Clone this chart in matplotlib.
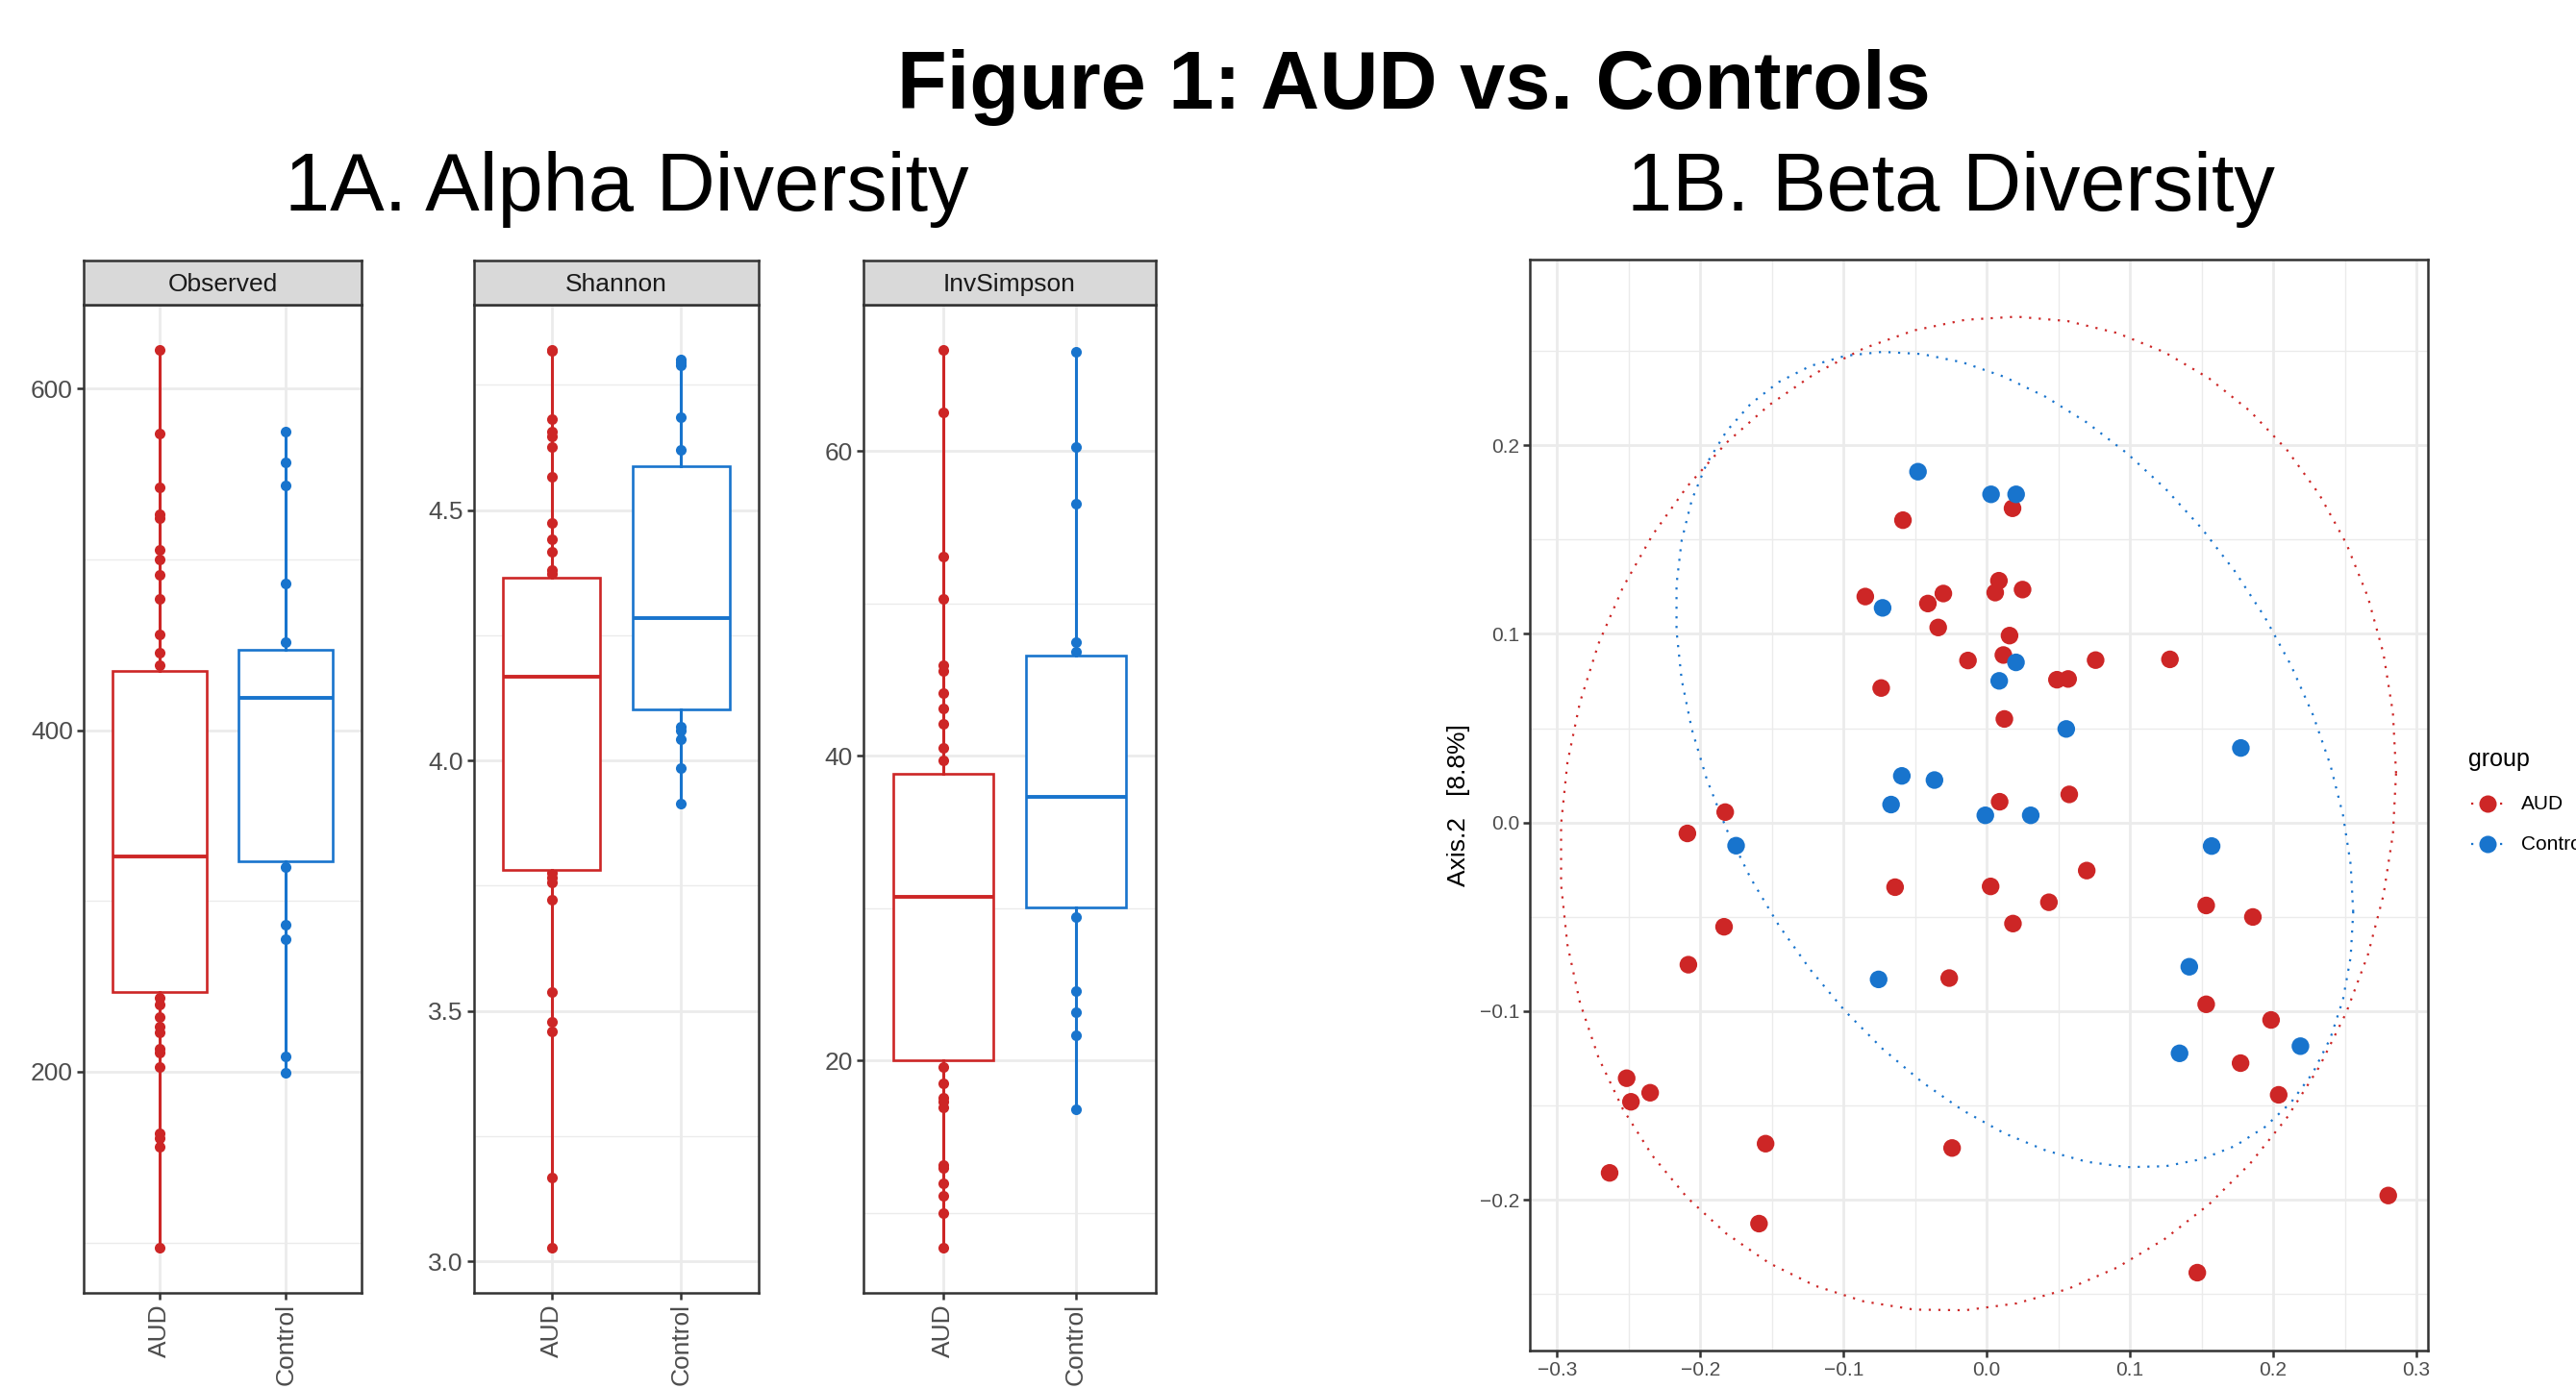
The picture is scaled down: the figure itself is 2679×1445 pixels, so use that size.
import numpy as np
import matplotlib
matplotlib.use("Agg")
import matplotlib.pyplot as plt
from matplotlib.lines import Line2D
from matplotlib.ticker import FixedLocator, FuncFormatter

plt.rcParams["font.family"] = ["Liberation Sans", "DejaVu Sans"]

W, H = 2679, 1445
RED = "#CD2626"
BLUE = "#1874CD"
GRID = "#EBEBEB"
DARK = "#333333"
TICKTXT = "#4D4D4D"

GROUPS = ["AUD", "Control"]

# alpha diversity: points visible outside the boxes, and box stats (q1, median, q3)
OBS_AUD = [622.8, 573.8, 541.9, 526.5, 523.9, 505.8, 500.2, 490.8, 477.0, 455.9, 445.6, 437.8,
           243.4, 239.1, 231.8, 226.3, 223.2, 213.3, 211.2, 203.0, 163.9, 160.9, 156.1, 96.8]
OBS_CTRL = [574.6, 557.0, 543.2, 485.6, 451.6, 320.0, 286.0, 277.8, 209.0, 199.6]
OBS_BOX_AUD = [246.9, 326.0, 434.4]
OBS_BOX_CTRL = [323.0, 418.9, 446.9]

SHA_AUD = [4.820, 4.817, 4.682, 4.656, 4.647, 4.625, 4.566, 4.474, 4.441, 4.416, 4.380, 4.372,
           3.775, 3.766, 3.756, 3.723, 3.538, 3.479, 3.459, 3.168, 3.027]
SHA_CTRL = [4.801, 4.795, 4.788, 4.686, 4.619, 4.068, 4.059, 4.042, 3.985, 3.914]
SHA_BOX_AUD = [3.782, 4.168, 4.365]
SHA_BOX_CTRL = [4.101, 4.284, 4.587]

INV_AUD = [66.65, 62.55, 53.06, 50.27, 45.93, 45.59, 44.14, 43.13, 42.12, 40.53, 39.71,
           19.57, 18.51, 17.59, 17.30, 16.92, 13.16, 12.96, 11.95, 11.13, 10.02, 7.71]
INV_CTRL = [66.51, 60.24, 56.53, 47.47, 46.80, 29.45, 24.58, 23.18, 21.69, 16.82]
INV_BOX_AUD = [20.05, 30.75, 38.80]
INV_BOX_CTRL = [30.07, 37.30, 46.55]

# beta diversity ordination (Axis.1, Axis.2)
AUD_X = [-0.0585, 0.018, -0.0848, -0.0411, -0.0303, 0.0085, 0.0059, 0.025, -0.0339, 0.0159,
         -0.0131, 0.0116, -0.0737, 0.0123, 0.009, -0.1826, 0.076, 0.1279, 0.049, 0.0568,
         0.0576, 0.0698, 0.0027, 0.0434, 0.0183, 0.1532, 0.1858, 0.1532, 0.1985, 0.1772,
         0.2038, 0.2803, 0.147, -0.209, -0.064, -0.1834, -0.2083, -0.0262, -0.2514, -0.2484,
         -0.235, -0.2633, -0.1544, -0.0242, -0.159]
AUD_Y = [0.1603, 0.1666, 0.1198, 0.1161, 0.1214, 0.1282, 0.1219, 0.1235, 0.1034, 0.0991,
         0.0859, 0.0888, 0.0713, 0.0549, 0.011, 0.0055, 0.0861, 0.0865, 0.0757, 0.0761,
         0.0149, -0.0255, -0.0339, -0.0423, -0.0536, -0.044, -0.0501, -0.0964, -0.1047, -0.1276,
         -0.1444, -0.1978, -0.2387, -0.0058, -0.0343, -0.0553, -0.0754, -0.0825, -0.1356, -0.1481,
         -0.1433, -0.1858, -0.1703, -0.1726, -0.2127]
CTRL_X = [-0.048, 0.003, 0.0205, -0.0727, 0.0087, 0.0204, 0.0555, 0.1774, -0.0593, -0.0365,
          -0.0668, -0.001, 0.0307, -0.175, 0.157, -0.0755, 0.1414, 0.1346, 0.219]
CTRL_Y = [0.186, 0.174, 0.174, 0.1138, 0.0751, 0.0849, 0.0496, 0.0395, 0.0247, 0.0225,
          0.0095, 0.0038, 0.0038, -0.0123, -0.0125, -0.0832, -0.0765, -0.1224, -0.1186]


def frect(x0, y0, x1, y1):
    return [x0 / W, 1 - y1 / H, (x1 - x0) / W, (y1 - y0) / H]


def style_axes(ax):
    for s in ax.spines.values():
        s.set_color(DARK)
        s.set_linewidth(1.8)
    ax.set_axisbelow(True)
    ax.tick_params(which="major", length=5, width=1.8, color=DARK, labelcolor=TICKTXT, pad=3)
    ax.tick_params(which="minor", length=0)


def alpha_panel(fig, x0, x1, title, aud, ctrl, box_aud, box_ctrl, major, minor, fmt):
    ax = fig.add_axes(frect(x0, 317, x1, 1345))
    for i, (pts, box, col) in enumerate([(aud, box_aud, RED), (ctrl, box_ctrl, BLUE)]):
        pos = i + 1
        ax.plot([pos] * len(pts), pts, "o", color=col, ms=8, mec="none", zorder=2.5)
        stats = dict(q1=box[0], med=box[1], q3=box[2], whislo=min(pts), whishi=max(pts), fliers=[])
        ax.bxp([stats], positions=[pos], widths=0.75, patch_artist=True, showcaps=False,
               showfliers=False, manage_ticks=False, zorder=3,
               boxprops=dict(facecolor="white", edgecolor=col, linewidth=1.9),
               medianprops=dict(color=col, linewidth=2.8),
               whiskerprops=dict(color=col, linewidth=2.2))
    allv = list(aud) + list(ctrl)
    lo, hi = min(allv), max(allv)
    pad = (hi - lo) * 0.05
    ax.set_ylim(lo - pad, hi + pad)
    ax.set_xlim(0.4, 2.6)
    ax.set_xticks([1, 2])
    ax.set_xticklabels(GROUPS, rotation=90, fontsize=19)
    ax.yaxis.set_major_locator(FixedLocator(major))
    ax.yaxis.set_minor_locator(FixedLocator(minor))
    ax.yaxis.set_major_formatter(FuncFormatter(lambda v, p: fmt.format(v)))
    ax.tick_params(axis="y", labelsize=19)
    ax.grid(which="major", color=GRID, lw=2)
    ax.grid(which="minor", axis="y", color=GRID, lw=1)
    style_axes(ax)

    sx = fig.add_axes(frect(x0, 271, x1, 317))
    sx.set_facecolor("#D9D9D9")
    sx.set_xticks([])
    sx.set_yticks([])
    for s in sx.spines.values():
        s.set_color(DARK)
        s.set_linewidth(1.8)
    sx.text(0.5, 0.45, title, ha="center", va="center", fontsize=19, color="#1A1A1A",
            transform=sx.transAxes)
    return ax


def cov_trob(x, nu=5, maxit=25, tol=0.01):
    # robust t covariance, as MASS::cov.trob used by stat_ellipse
    n, p = x.shape
    wt = np.ones(n)
    loc = x.mean(axis=0)
    w = np.sqrt(wt)
    for _ in range(maxit):
        w0 = w
        X = x - loc
        A = np.sqrt(w / w.sum())[:, None] * X
        _, d, vt = np.linalg.svd(A, full_matrices=False)
        wX = X @ vt.T @ np.diag(1 / d)
        Q = (wX ** 2).sum(axis=1)
        w = (wt * (nu + p)) / (nu + Q)
        loc = (w[:, None] * x).sum(axis=0) / w.sum()
        if np.all(np.abs(w - w0) < tol):
            break
    cov = (np.sqrt(w)[:, None] * X).T @ (np.sqrt(w)[:, None] * X) / wt.sum()
    return loc, cov


def ellipse_pts(xs, ys, level=0.95, segments=51):
    data = np.column_stack([xs, ys])
    center, shape = cov_trob(data)
    dfd = len(xs) - 1
    fq = dfd / 2 * ((1 - level) ** (-2 / dfd) - 1)
    radius = np.sqrt(2 * fq)
    chol = np.linalg.cholesky(shape).T
    ang = np.arange(segments + 1) * 2 * np.pi / segments
    circ = np.column_stack([np.cos(ang), np.sin(ang)])
    return center + radius * circ @ chol


fig = plt.figure(figsize=(W / 100, H / 100), dpi=100)

fig.text(1470 / W, 1 - 113 / H, "Figure 1: AUD vs. Controls", ha="center", va="baseline",
         fontsize=61, fontweight="bold")
fig.text(652 / W, 1 - 219 / H, "1A. Alpha Diversity", ha="center", va="baseline", fontsize=61)
fig.text(2029 / W, 1 - 219 / H, "1B. Beta Diversity", ha="center", va="baseline", fontsize=61)

alpha_panel(fig, 87, 376, "Observed", OBS_AUD, OBS_CTRL, OBS_BOX_AUD, OBS_BOX_CTRL,
            [200, 400, 600], [100, 300, 500], "{:.0f}")
alpha_panel(fig, 493, 789, "Shannon", SHA_AUD, SHA_CTRL, SHA_BOX_AUD, SHA_BOX_CTRL,
            [3.0, 3.5, 4.0, 4.5], [3.25, 3.75, 4.25, 4.75], "{:.1f}")
alpha_panel(fig, 898, 1202, "InvSimpson", INV_AUD, INV_CTRL, INV_BOX_AUD, INV_BOX_CTRL,
            [20, 40, 60], [10, 30, 50], "{:.0f}")

# beta diversity panel
bx = fig.add_axes(frect(1591, 270, 2525, 1405))
for xs, ys, col in [(AUD_X, AUD_Y, RED), (CTRL_X, CTRL_Y, BLUE)]:
    bx.scatter(xs, ys, s=175, color=col, edgecolors="none", zorder=3)
    e = ellipse_pts(xs, ys)
    bx.plot(e[:, 0], e[:, 1], color=col, lw=1.6, ls=(0, (1, 3.5)), zorder=2)
bx.set_xlim(-0.319, 0.308)
bx.set_ylim(-0.280, 0.2985)
bx.xaxis.set_major_locator(FixedLocator([-0.3, -0.2, -0.1, 0.0, 0.1, 0.2, 0.3]))
bx.xaxis.set_minor_locator(FixedLocator([-0.25, -0.15, -0.05, 0.05, 0.15, 0.25]))
bx.yaxis.set_major_locator(FixedLocator([-0.2, -0.1, 0.0, 0.1, 0.2]))
bx.yaxis.set_minor_locator(FixedLocator([-0.25, -0.15, -0.05, 0.05, 0.15, 0.25]))
mfmt = FuncFormatter(lambda v, p: f"{round(v, 1) + 0:.1f}".replace("-", "\u2212"))
bx.xaxis.set_major_formatter(mfmt)
bx.yaxis.set_major_formatter(mfmt)
bx.tick_params(labelsize=15)
bx.grid(which="major", color=GRID, lw=2)
bx.grid(which="minor", color=GRID, lw=1)
style_axes(bx)
fig.text(1517 / W, 1 - 838 / H, "Axis.2   [8.8%]", rotation=90, ha="center", va="center",
         fontsize=19)

# legend (cut by the right edge, as in the original)
fig.text(2567 / W, 1 - 797 / H, "group", ha="left", va="baseline", fontsize=18)
for yk, lab, col in [(836, "AUD", RED), (878, "Control", BLUE)]:
    fig.add_artist(Line2D([2570 / W, 2604 / W], [1 - yk / H] * 2, color=col, lw=1.6,
                          ls=(0, (1, 3.5)), transform=fig.transFigure))
    fig.add_artist(Line2D([2587 / W], [1 - yk / H], marker="o", ms=13, color=col, mec="none",
                          ls="none", transform=fig.transFigure))
    fig.text(2622 / W, 1 - yk / H, lab, ha="left", va="center", fontsize=15)

fig.savefig("out.png", dpi=100, facecolor="white")
